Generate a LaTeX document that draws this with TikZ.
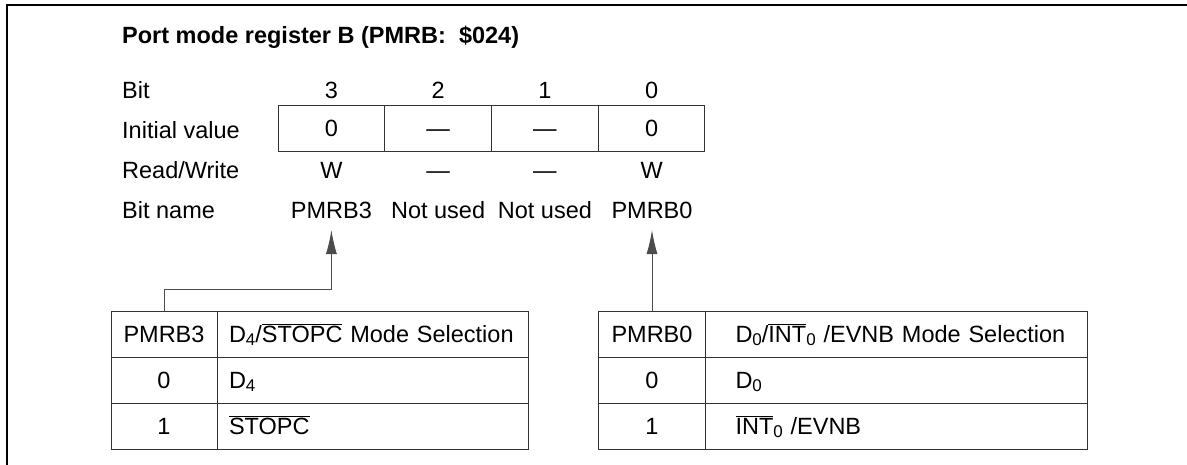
\documentclass[tikz,border=0pt]{standalone}
\usepackage{fontspec}
\setmainfont{Liberation Sans}
\usetikzlibrary{arrows.meta}

\newcommand{\lowidx}[1]{\raisebox{-0.3ex}{\fontsize{17}{17}\selectfont #1}}
\newcommand{\ovl}[1]{$\overline{\mbox{#1}}$}

\tikzset{
  lbl/.style={anchor=base west, inner sep=0pt},
  val/.style={anchor=base, inner sep=0pt},
  regcell/.style={draw=black!80, line width=1pt, minimum width=106.75pt,
    minimum height=46pt, text height=16.5pt, text depth=0pt, inner sep=0pt},
  keycell/.style={draw=black!80, line width=1pt, minimum height=46pt,
    text height=16.5pt, text depth=0pt, inner ysep=0pt, inner xsep=0pt},
  txtcell/.style n args={2}{keycell, align=left, text width=#1,
    execute at begin node={\hspace*{#2}}},
  conn/.style={draw=black!70, line width=1pt, -{Latex[length=24pt,width=11pt]}}
}

\begin{document}
\begin{tikzpicture}[x=1pt, y=-1pt, font=\fontsize{23.5}{28}\selectfont]
  \useasboundingbox (0,0) rectangle (1187,464);

  % Draw the frame
  \draw[line width=1.5pt] (7,475) -- (7,5) -- (1195,5);

  % Title and row labels
  \node[lbl, font=\fontsize{23.5}{28}\selectfont\bfseries] (title) at (122,43)
    {Port mode register B (PMRB:\ \ \$024)};
  \node[lbl] (lbit)  at (122,98)  {Bit};
  \node[lbl] (linit) at (122,138) {Initial value};
  \node[lbl] (lrw)   at (122,178) {Read/Write};
  \node[lbl] (lname) at (122,218) {Bit name};

  % Draw the register row
  \node[val] (b3) at (331.4,98) {3};
  \node[val] (b2) at (438.1,98) {2};
  \node[val] (b1) at (544.9,98) {1};
  \node[val] (b0) at (651.6,98) {0};

  \node[regcell] (r3) at (331.4,128.5) {0};
  \node[regcell] (r2) at (438.1,128.5) {---};
  \node[regcell] (r1) at (544.9,128.5) {---};
  \node[regcell] (r0) at (651.6,128.5) {0};

  \node[val] (w3) at (331.4,178) {W};
  \node[val] (w2) at (438.1,178) {---};
  \node[val] (w1) at (544.9,178) {---};
  \node[val] (w0) at (651.6,178) {W};

  \node[val] (bn3) at (331.4,218) {PMRB3};
  \node[val] (bn2) at (438.1,218) {Not used};
  \node[val] (bn1) at (544.9,218) {Not used};
  \node[val] (bn0) at (652,218)   {PMRB0};

  % Draw the PMRB3 table
  \node[keycell, minimum width=106pt] (ta1) at (164,334) {PMRB3};
  \node[keycell, minimum width=106pt] (ta2) at (164,380) {0};
  \node[keycell, minimum width=106pt] (ta3) at (164,426) {1};
  \node[txtcell={311pt}{12pt}] (tb1) at (372.5,334)
    {D\lowidx{4}/\ovl{STOPC} Mode Selection};
  \node[txtcell={311pt}{12pt}] (tb2) at (372.5,380) {D\lowidx{4}};
  \node[txtcell={311pt}{12pt}] (tb3) at (372.5,426) {\ovl{STOPC}};

  % Draw the PMRB0 table
  \node[keycell, minimum width=107pt] (tc1) at (652,334) {PMRB0};
  \node[keycell, minimum width=107pt] (tc2) at (652,380) {0};
  \node[keycell, minimum width=107pt] (tc3) at (652,426) {1};
  \node[txtcell={382pt}{30pt}] (td1) at (896.5,334)
    {D\lowidx{0}/\ovl{INT}\lowidx{0} /EVNB Mode Selection};
  \node[txtcell={382pt}{30pt}] (td2) at (896.5,380) {D\lowidx{0}};
  \node[txtcell={382pt}{30pt}] (td3) at (896.5,426) {\ovl{INT}\lowidx{0} /EVNB};

  % Draw the arrows to the bit names
  \draw[conn] (ta1.north) -- ++(0,-21) -| ([yshift=-12pt]bn3.base);
  \draw[conn] (tc1.north) -- ([yshift=-12pt]bn0.base);
\end{tikzpicture}
\end{document}
